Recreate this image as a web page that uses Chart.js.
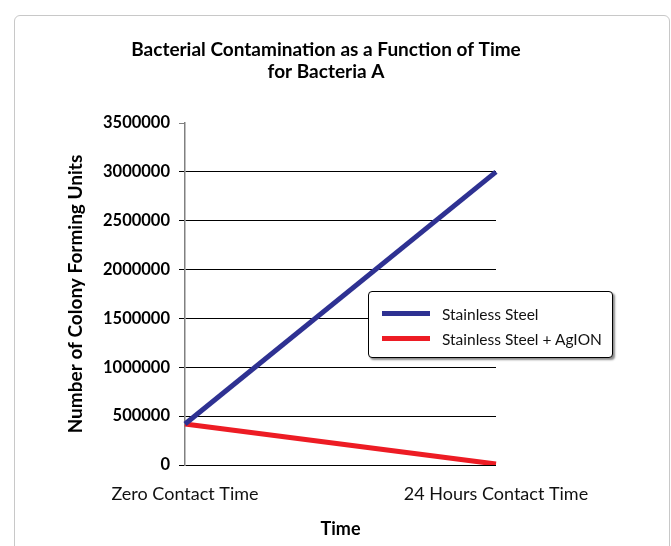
<!DOCTYPE html>
<html lang="en">
<head>
  <meta charset="UTF-8" />
  <title>Bacterial Contamination</title>
  <style>
    * { box-sizing: border-box; }
    body {
      margin: 0;
      background: #fff;
      font-family: Lato, 'Liberation Sans', sans-serif;
    }
    .frame {
      position: absolute;
      left: 14px;
      top: 15px;
      width: 656px;
      height: 600px;
      border: 1px solid #c8c8c8;
      border-radius: 6px;
    }
    #wrap {
      position: absolute;
      left: 0;
      top: 0;
      width: 671px;
      height: 546px;
    }
    #legend {
      position: absolute;
      left: 368px;
      top: 291px;
      width: 245px;
      height: 67px;
      border: 1.5px solid #000;
      border-radius: 4px;
      background: #fff;
      box-shadow: 2px 2px 2px rgba(0, 0, 0, 0.45);
      padding-top: 9px;
    }
    .item {
      display: flex;
      align-items: center;
      height: 25px;
      font-size: 15.5px;
      color: #111;
    }
    .swatch {
      width: 48px;
      height: 5px;
      margin-left: 13px;
      margin-right: 12px;
    }
  </style>
</head>
<body>
<div class="frame"></div>
<div id="wrap">
  <canvas id="chart" width="671" height="546"></canvas>
  <div id="legend"></div>
</div>

<script src="https://cdn.jsdelivr.net/npm/chart.js"></script>
<script>
const categories = ['Zero Contact Time', '24 Hours Contact Time'];
const stainlessSteel = [420000, 3000000];
const stainlessAgion = [420000, 10000];
const seriesNames = ['Stainless Steel', 'Stainless Steel + AgION'];
const yTicks = [0, 500000, 1000000, 1500000, 2000000, 2500000, 3000000, 3500000];

const FONT = 'Lato, "Liberation Sans", sans-serif';

const chart = new Chart(document.getElementById('chart'), {
  type: 'line',
  data: {
    labels: categories,
    datasets: [
      {
        label: seriesNames[0],
        data: stainlessSteel,
        borderColor: '#2e3192',
        borderWidth: 5,
        pointRadius: 0,
        tension: 0
      },
      {
        label: seriesNames[1],
        data: stainlessAgion,
        borderColor: '#ed1c24',
        borderWidth: 5,
        pointRadius: 0,
        tension: 0
      }
    ]
  },
  options: {
    responsive: false,
    animation: false,
    layout: { padding: { top: 39, right: 19, bottom: 0, left: 0 } },
    plugins: {
      legend: { display: false },
      tooltip: { enabled: false },
      title: {
        display: true,
        text: ['Bacterial Contamination as a Function of Time', 'for Bacteria A'],
        color: '#000',
        font: { family: FONT, size: 19, weight: 'bold', lineHeight: 1.16 },
        padding: { top: 0, bottom: 40 }
      }
    },
    scales: {
      x: {
        offset: false,
        grid: { display: false, drawTicks: false },
        border: { display: false },
        ticks: {
          color: '#111',
          padding: 18,
          maxRotation: 0,
          font: { family: FONT, size: 18 }
        },
        title: {
          display: true,
          text: 'Time',
          color: '#000',
          font: { family: FONT, size: 18, weight: 'bold' },
          padding: { top: 0, bottom: 6 }
        },
        afterFit: s => { s.height = 81; }
      },
      y: {
        min: 0,
        max: 3500000,
        afterBuildTicks: s => { s.ticks = yTicks.map(v => ({ value: v })); },
        grid: {
          color: c => c.tick && c.tick.value === 3500000 ? 'rgba(0,0,0,0)' : '#000',
          tickColor: c => c.tick && c.tick.value === 3500000 ? '#808080' : '#000',
          lineWidth: 1,
          tickLength: 6
        },
        border: { color: '#808080', width: 1.5 },
        ticks: {
          color: '#000',
          padding: 9,
          font: { family: FONT, size: 16.5, weight: 'bold' },
          callback: v => String(v)
        },
        title: {
          display: true,
          text: 'Number of Colony Forming Units',
          color: '#000',
          font: { family: FONT, size: 19, weight: 'bold' },
          padding: { top: 64 }
        },
        afterFit: s => { s.width = 185; }
      },
      // empty right-hand space so the title centres over the whole plot box
      spacer: {
        type: 'linear',
        position: 'right',
        grid: { display: false, drawTicks: false },
        border: { display: false },
        ticks: { display: false },
        afterFit: s => { s.width = 156; }
      }
    }
  }
});

// legend box built from the datasets
const legendEl = document.getElementById('legend');
chart.data.datasets.forEach(ds => {
  const row = document.createElement('div');
  row.className = 'item';
  const sw = document.createElement('span');
  sw.className = 'swatch';
  sw.style.background = ds.borderColor;
  row.appendChild(sw);
  row.appendChild(document.createTextNode(ds.label));
  legendEl.appendChild(row);
});
</script>
</body>
</html>
